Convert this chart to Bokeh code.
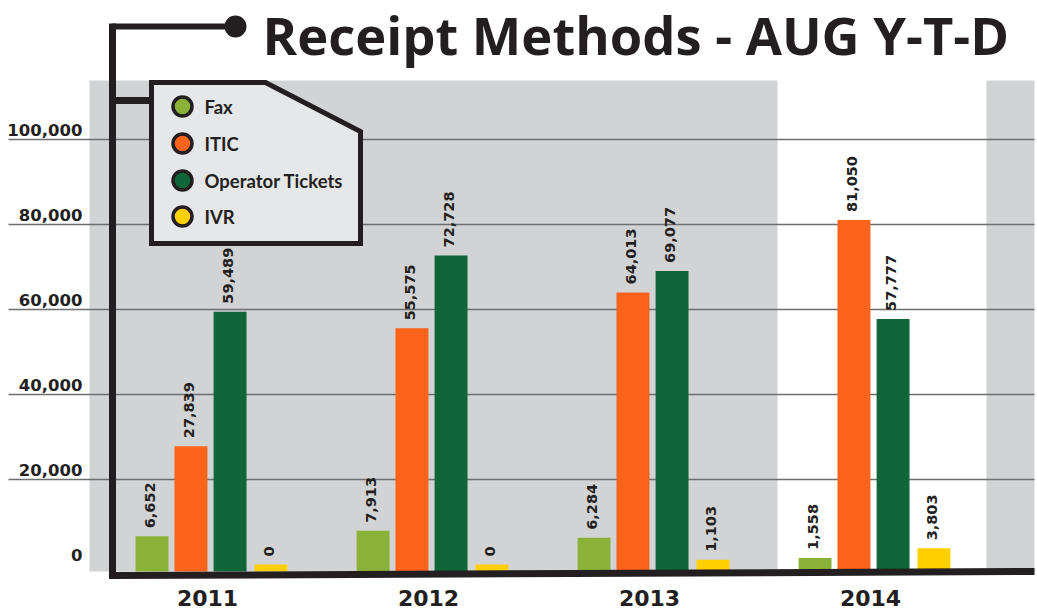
import math
from bokeh.plotting import figure
from bokeh.models import ColumnDataSource, Range1d
from bokeh.transform import dodge
from bokeh.core.properties import value
from bokeh.embed import file_html
from bokeh.resources import INLINE

# ---------------- data ----------------
years = [2011, 2012, 2013, 2014]
year_labels = ["2011", "2012", "2013", "2014"]
series = ["Fax", "ITIC", "Operator Tickets", "IVR"]
fax = [6652, 7913, 6284, 1558]
itic = [27839, 55575, 64013, 81050]
operator_tickets = [59489, 72728, 69077, 57777]
ivr = [0, 0, 1103, 3803]
y_ticks = [0, 20000, 40000, 60000, 80000, 100000]
y_tick_labels = ["0", "20,000", "40,000", "60,000", "80,000", "100,000"]
title_text = "Receipt Methods - AUG Y-T-D"

# ---------------- layout / style ----------------
colors = ["#8bb238", "#fd631a", "#0f6638", "#ffd000"]
offsets = [-0.269, -0.093, 0.084, 0.269]
BAR_W = 0.149
BLACK = "#231f20"
GRAY = "#d1d3d4"
GRID = "#6d6e71"
BOX = "#e6e7e8"

W, H = 1035, 612
GROUP0_PX, GROUP_PX = 211.0, 221.0
ZERO_PY, PX_PER_20K = 564.0, 85.0


def X(px):
    return 2011 + (px - GROUP0_PX) / GROUP_PX


def Y(py):
    return (ZERO_PY - py) * 20000.0 / PX_PER_20K


p = figure(width=W, height=H, output_backend="svg", toolbar_location=None,
           x_axis_type=None, y_axis_type=None,
           x_range=Range1d(X(0), X(W)), y_range=Range1d(Y(H), Y(0)),
           min_border=0, outline_line_color=None)
p.xgrid.visible = False
p.ygrid.visible = False
p.background_fill_color = "white"
p.border_fill_color = "white"

BASE = Y(571)

# gray background bands
p.quad(left=[X(89), X(986)], right=[X(777), X(1034)], bottom=[BASE, BASE],
       top=[Y(80), Y(80)], fill_color=GRAY, line_color=None)

# gridlines
p.segment(x0=[X(8)] * 5, x1=[X(1034)] * 5, y0=y_ticks[1:], y1=y_ticks[1:],
          line_color=GRID, line_width=1.6)

# bars
src = ColumnDataSource(dict(year=years, fax=fax, itic=itic, ot=operator_tickets, ivr=ivr,
                            fax_l=[f"{v:,}" for v in fax], itic_l=[f"{v:,}" for v in itic],
                            ot_l=[f"{v:,}" for v in operator_tickets], ivr_l=[f"{v:,}" for v in ivr]))
cols = ["fax", "itic", "ot", "ivr"]
for col, off, c in zip(cols, offsets, colors):
    p.vbar(x=dodge("year", off, range=p.x_range), top=col, bottom=BASE, width=BAR_W,
           source=src, fill_color=c, line_color=None)

# axis frame (L-shaped connector)
p.line(x=[X(112), X(112), X(1034)], y=[Y(23), Y(575), Y(571)], line_color=BLACK,
       line_width=7, line_join="miter")
p.line(x=[X(112), X(235)], y=[Y(26), Y(26)], line_color=BLACK, line_width=6)
p.scatter(x=[X(235)], y=[Y(26)], size=22, marker="circle", fill_color=BLACK, line_color=None)
p.line(x=[X(112), X(150)], y=[Y(100), Y(100)], line_color=BLACK, line_width=7)

# legend box
p.patch(x=[X(151), X(265), X(360), X(360), X(151)],
        y=[Y(82), Y(82), Y(131), Y(243), Y(243)],
        fill_color=BOX, line_color=BLACK, line_width=5, line_join="miter")
leg_y = [Y(106), Y(143), Y(180), Y(216)]
p.scatter(x=[X(182)] * 4, y=leg_y, size=19, marker="circle", fill_color=colors,
          line_color=BLACK, line_width=3.5)
p.text(x=[X(204)] * 4, y=leg_y, text=series, text_align="left", text_baseline="middle",
       text_font=value("Lato"), text_font_style="bold", text_font_size="18.5px",
       text_color=BLACK)

# value labels
for col, off in zip(cols, offsets):
    p.text(x=dodge("year", off, range=p.x_range), y=col, text=col + "_l", source=src,
           angle=math.pi / 2, text_align="left", text_baseline="middle",
           x_offset=-2, y_offset=-8,
           text_font=value("DejaVu Sans"), text_font_style="bold",
           text_font_size="14.5px", text_color=BLACK)

# y tick labels
p.text(x=[X(82)] * len(y_ticks), y=y_ticks, text=y_tick_labels, text_align="right",
       text_baseline="middle", y_offset=-10,
       text_font=value("DejaVu Sans"), text_font_style="bold", text_font_size="16.5px",
       text_color=BLACK)

# year labels
p.text(x=years, y=[Y(597)] * 4, text=year_labels, text_align="center",
       text_baseline="middle", x_offset=-4,
       text_font=value("DejaVu Sans"), text_font_style="bold",
       text_font_size="22px", text_color=BLACK)

# title
p.text(x=[X(262)], y=[Y(34)], text=[title_text], text_align="left", text_baseline="middle",
       text_font=value("Open Sans"), text_font_style="bold", text_font_size="52.5px",
       text_color=BLACK)

open("out.html", "w").write(file_html(p, INLINE))
